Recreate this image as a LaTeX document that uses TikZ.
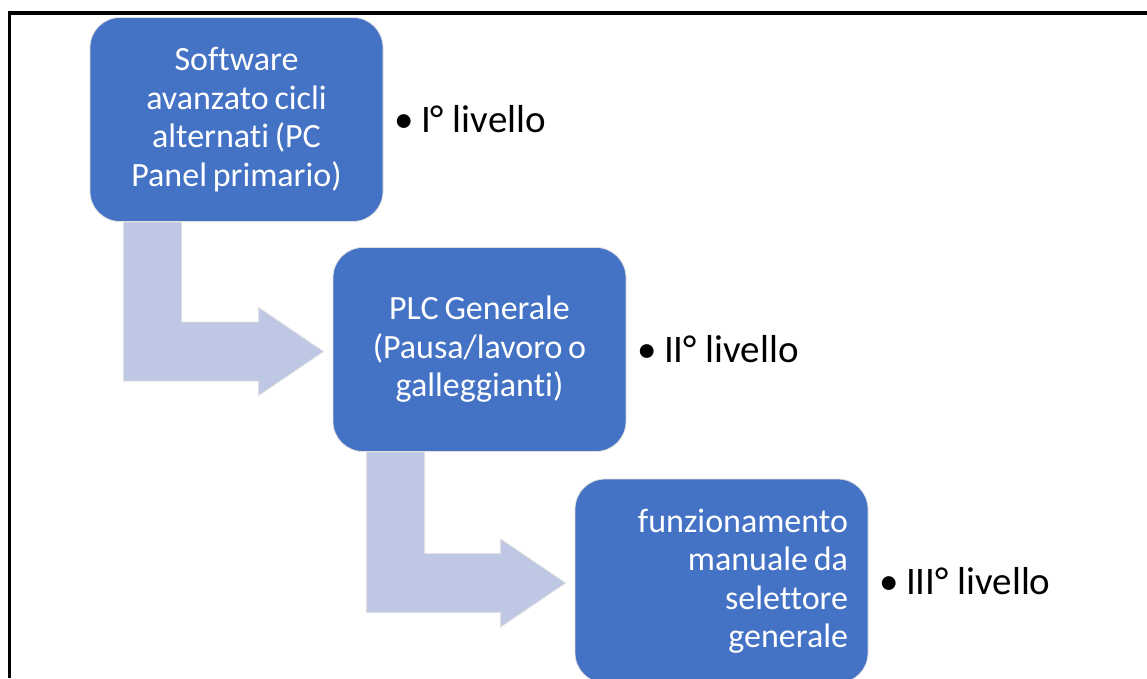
\documentclass[tikz,border=0pt]{standalone}
\usepackage{fontspec}
\setmainfont{Carlito}[Ligatures=NoCommon]
\usepackage{tikz}
\usetikzlibrary{calc,backgrounds}

\definecolor{boxblue}{RGB}{68,114,196}
\definecolor{arrowblue}{RGB}{190,200,228}

\DeclareRobustCommand{\levelfont}{\fontsize{34}{38.5}\selectfont}

% bent arrow from the foot of one level box to the side of the next
\newcommand{\bentarrow}[2]{%
	\path[fill=arrowblue, draw=black!12, line width=0.8pt]
		let \p1 = (#1.south west), \p2 = ([yshift=-2pt]#2.west) in
		(\x1+34pt, \y1) -- (\x1+92pt, \y1) -- (\x1+92pt, \y2+29.5pt)
		-- (\x2-74pt, \y2+29.5pt) -- (\x2-74pt, \y2+44pt) -- (\x2-9pt, \y2)
		-- (\x2-74pt, \y2-44pt) -- (\x2-74pt, \y2-29.5pt)
		-- (\x1+34pt, \y2-29.5pt) -- cycle;
}

\begin{document}
\begin{tikzpicture}[x=1pt, y=-1pt,
	level/.style={rectangle, rounded corners=30pt, fill=boxblue, draw=black!12, line width=0.8pt, text=white, text width=253pt, inner xsep=20pt, inner ysep=0pt, minimum height=204pt, font=\levelfont},
	tag/.style={anchor=west, inner sep=0pt, font=\fontsize{39}{44}\selectfont}]
	\useasboundingbox (0, 0) rectangle (1147, 678);
	\clip (0, 0) rectangle (1147, 678);
	% Frame:
	\draw[line width=3.5pt] (9.5, 678) -- (9.5, 13) -- (1147, 13);
	% Levels and labels:
	\node[level, align=center] (lvlone) at (236.5, 119.5) {Software\\ avanzato\hspace{0.17em}cicli\\ alternati\hspace{0.17em}(PC\\ Panel\hspace{0.17em}primario)};
	\node[level, align=center] (lvltwo) at (479.5, 349.5) {PLC\hspace{0.17em}Generale\\ (Pausa/lavoro\hspace{0.17em}o\\ galleggianti)};
	\node[level, align=right] (lvlthree) at (721.5, 581) {funzionamento\\ manuale\hspace{0.17em}da\\ selettore\\ generale};
	\node[tag] (tagone) at ([xshift=11pt]lvlone.east) {•\hspace{7pt}I° livello};
	\node[tag] (tagtwo) at ([xshift=11pt]lvltwo.east) {•\hspace{7pt}II° livello};
	\node[tag] (tagthree) at ([xshift=11pt]lvlthree.east) {•\hspace{7pt}III° livello};
	% Arrows:
	\begin{pgfonlayer}{background}
		\bentarrow{lvlone}{lvltwo}
		\bentarrow{lvltwo}{lvlthree}
	\end{pgfonlayer}
\end{tikzpicture}
\end{document}
